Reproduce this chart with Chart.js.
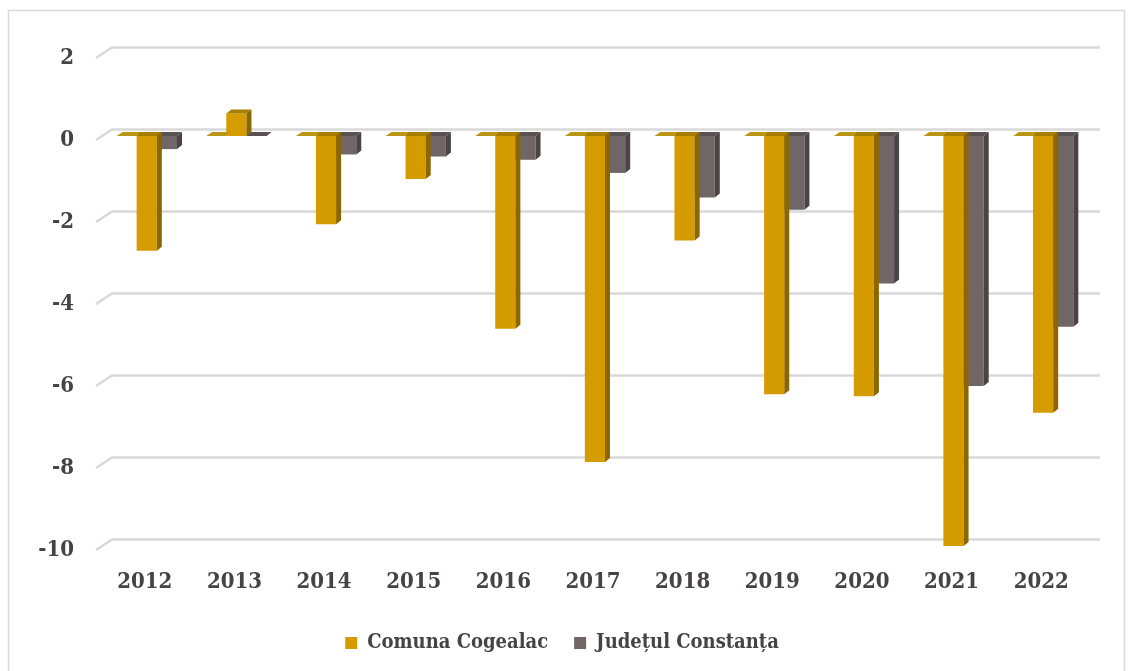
<!DOCTYPE html>
<html>
<head>
<meta charset="utf-8">
<script src="https://cdn.jsdelivr.net/npm/chart.js@4"></script>
<style>
  html, body { margin: 0; padding: 0; background: #ffffff; }
  #wrap { width: 1134px; height: 671px; }
</style>
</head>
<body>
<div id="wrap"><canvas id="c" width="1134" height="671"></canvas></div>
<script>
const categories = ['2012','2013','2014','2015','2016','2017','2018','2019','2020','2021','2022'];
const comunaCogealac = [-2.8, 0.55, -2.15, -1.05, -4.7, -7.95, -2.55, -6.3, -6.35, -10.0, -6.75];
const judetulConstanta = [-0.32, 0.0, -0.45, -0.5, -0.58, -0.9, -1.5, -1.8, -3.6, -6.1, -4.65];
const yTicks = [2, 0, -2, -4, -6, -8, -10];

const FONT = "'DejaVu Serif Condensed', 'DejaVu Serif', 'Liberation Serif', serif";
const TEXT = '#474244';
const GRID = '#d9d9d9';
const styles = [
  { front: '#D59C00', side: '#8C6700', top: '#A87E00', floor: '#B89614' },
  { front: '#716666', side: '#4A4445', top: '#5A5252', floor: '#5A5252' }
];
const DX = 5, DY = 4;

const bars3d = {
  id: 'bars3d',
  beforeDraw(chart) {
    const ctx = chart.ctx;
    ctx.save();
    ctx.strokeStyle = GRID;
    ctx.lineWidth = 1.5;
    ctx.strokeRect(8.5, 10.5, 1116, 680);
    ctx.restore();
  },
  beforeDatasetsDraw(chart) {
    const ctx = chart.ctx, ys = chart.scales.y, area = chart.chartArea;
    ctx.save();
    ctx.strokeStyle = GRID;
    ctx.lineWidth = 2.5;
    yTicks.forEach(v => {
      const y = ys.getPixelForValue(v);
      ctx.beginPath();
      ctx.moveTo(area.left - 16, y + 4);
      ctx.lineTo(area.left, y - 6.5);
      ctx.lineTo(area.right + 2, y - 6.5);
      ctx.stroke();
    });
    ctx.restore();
  },
  afterDatasetDraw(chart, args) {
    const ctx = chart.ctx, ys = chart.scales.y;
    const meta = chart.getDatasetMeta(args.index);
    const st = styles[args.index];
    const y0 = ys.getPixelForValue(0);
    ctx.save();
    meta.data.forEach((bar) => {
      const p = bar.getProps(['x', 'y', 'width', 'base'], true);
      const xL = p.x - p.width / 2, xR = p.x + p.width / 2;
      const yv = p.y;
      const poly = (pts, col) => {
        ctx.beginPath();
        ctx.moveTo(pts[0][0], pts[0][1]);
        for (let k = 1; k < pts.length; k++) ctx.lineTo(pts[k][0], pts[k][1]);
        ctx.closePath();
        ctx.fillStyle = col;
        ctx.fill();
      };
      if (args.index === 0) {
        poly([[xL - 20, y0], [xL, y0], [xL + 2, y0 - DY], [xL - 14, y0 - DY]], st.floor);
      }
      if (yv >= y0) {
        poly([[xL, y0], [xR, y0], [xR + DX, y0 - DY], [xL + 2, y0 - DY]], st.top);
        if (yv > y0) {
          poly([[xR, y0], [xR, yv], [xR + DX, yv - DY], [xR + DX, y0 - DY]], st.side);
        }
      } else {
        poly([[xL, yv], [xR, yv], [xR + DX, yv - DY], [xL + DX, yv - DY]], st.top);
        poly([[xR, yv], [xR, y0], [xR + DX, y0 - DY], [xR + DX, yv - DY]], st.side);
      }
    });
    ctx.restore();
  }
};

new Chart(document.getElementById('c'), {
  type: 'bar',
  data: {
    labels: categories,
    datasets: [
      { label: 'Comuna Cogealac', data: comunaCogealac, backgroundColor: styles[0].front, borderWidth: 0,
        categoryPercentage: 0.45, barPercentage: 1.0 },
      { label: 'Județul Constanța', data: judetulConstanta, backgroundColor: styles[1].front, borderWidth: 0,
        categoryPercentage: 0.45, barPercentage: 1.0 }
    ]
  },
  options: {
    responsive: false,
    animation: false,
    devicePixelRatio: 1,
    layout: { padding: { top: 54, right: 36, bottom: 8, left: 26 } },
    plugins: {
      legend: {
        position: 'bottom',
        labels: {
          boxWidth: 12, boxHeight: 12, padding: 26,
          color: TEXT,
          font: { family: FONT, size: 20, weight: 'bold' }
        }
      },
      tooltip: { enabled: false }
    },
    scales: {
      x: {
        grid: { display: false, drawTicks: false },
        border: { display: false },
        ticks: { color: TEXT, padding: 23, labelOffset: -12, maxRotation: 0,
                 font: { family: FONT, size: 22, weight: 'bold' } },
        afterFit(s) { s.height = 61; }
      },
      y: {
        min: -10, max: 2,
        grid: { display: false, drawTicks: false },
        border: { display: false },
        ticks: { stepSize: 2, color: TEXT, padding: 38, labelOffset: 4,
                 font: { family: FONT, size: 22, weight: 'bold' } },
        afterFit(s) { s.width = 86; }
      }
    }
  },
  plugins: [bars3d]
});
</script>
</body>
</html>
